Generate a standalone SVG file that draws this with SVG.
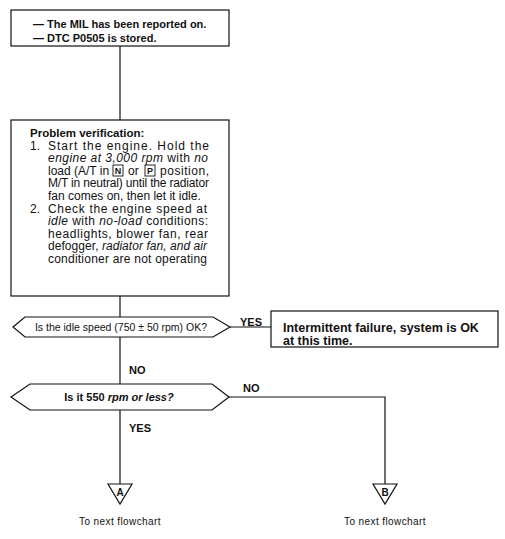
<svg xmlns="http://www.w3.org/2000/svg" width="505" height="539" viewBox="0 0 505 539">
<style>
.box{fill:#fff;stroke:#111;stroke-width:1.2}
.ln{fill:none;stroke:#111;stroke-width:1.2}
text{font-family:"Liberation Sans",Arial,sans-serif;fill:#111}
.b{font-weight:bold;font-size:11px}
.t{font-size:12px}
.i{font-style:italic}
.lbl{font-weight:bold;font-size:11px}
.nx{font-size:10px;letter-spacing:0.4px}
.key{font-weight:bold;font-size:9px}
.tri{font-weight:bold;font-size:10px}
</style>
<rect width="505" height="539" fill="#fff"/>
<g id="connectors">
<line class="ln" x1="120" y1="46" x2="120" y2="120"/>
<line class="ln" x1="120" y1="296" x2="120" y2="317"/>
<line class="ln" x1="120" y1="337" x2="120" y2="384"/>
<line class="ln" x1="230" y1="327" x2="271" y2="327"/>
<line class="ln" x1="120" y1="410" x2="120" y2="484"/>
<polyline class="ln" points="229,397 385,397 385,484"/>
<text class="lbl" x="240" y="326">YES</text>
<text class="lbl" x="129" y="374">NO</text>
<text class="lbl" x="243" y="392">NO</text>
<text class="lbl" x="129" y="432">YES</text>
</g>
<g id="start">
<rect class="box" x="11" y="10" width="218" height="36"/>
<text class="b" x="33" y="28">— The MIL has been reported on.</text>
<text class="b" x="33" y="42">— DTC P0505 is stored.</text>
</g>
<g id="verify">
<rect class="box" x="11" y="120" width="218" height="176"/>
<text class="b" x="30" y="137" style="font-size:11.5px">Problem verification:</text>
<text class="t" x="30" y="149.6">1.</text>
<text class="t" x="48" y="149.6" textLength="161" lengthAdjust="spacing">Start the engine. Hold the</text>
<text class="t" x="48" y="162.2" textLength="160" lengthAdjust="spacing"><tspan class="i">engine at 3,000 rpm</tspan> with <tspan class="i">no</tspan></text>
<text class="t" x="48" y="174.8">load (A/T in</text>
<rect x="113" y="165" width="10" height="11" fill="none" stroke="#111" stroke-width="0.9"/>
<text class="key" x="118" y="174" text-anchor="middle">N</text>
<text class="t" x="128" y="174.8">or</text>
<rect x="145" y="165" width="10" height="11" fill="none" stroke="#111" stroke-width="0.9"/>
<text class="key" x="150" y="174" text-anchor="middle">P</text>
<text class="t" x="160" y="174.8" textLength="49" lengthAdjust="spacing">position,</text>
<text class="t" x="48" y="187.4" textLength="161" lengthAdjust="spacing">M/T in neutral) until the radiator</text>
<text class="t" x="48" y="200">fan comes on, then let it idle.</text>
<text class="t" x="30" y="212.6">2.</text>
<text class="t" x="48" y="212.6" textLength="159" lengthAdjust="spacing">Check the engine speed at</text>
<text class="t" x="48" y="225.2" textLength="160" lengthAdjust="spacing"><tspan class="i">idle</tspan> with <tspan class="i">no-load</tspan> conditions:</text>
<text class="t" x="48" y="237.8" textLength="160" lengthAdjust="spacing">headlights, blower fan, rear</text>
<text class="t" x="48" y="250.4" textLength="159" lengthAdjust="spacing">defogger, <tspan class="i">radiator fan, and air</tspan></text>
<text class="t" x="48" y="263" textLength="159" lengthAdjust="spacing">conditioner are not operating</text>
</g>
<g id="q1">
<polygon class="box" points="13,327 25,317 213,317 230,327 213,337 25,337"/>
<text x="121" y="331" style="font-size:10.5px" text-anchor="middle">Is the idle speed (750 ± 50 rpm) OK?</text>
</g>
<g id="ok">
<rect class="box" x="271" y="311" width="227" height="36"/>
<text class="b" x="283" y="332" style="font-size:12.5px">Intermittent failure, system is OK</text>
<text class="b" x="283" y="345" style="font-size:12.5px">at this time.</text>
</g>
<g id="q2">
<polygon class="box" points="11,397 30,384 212,384 229,397 212,410 30,410"/>
<text class="b" x="119" y="401" text-anchor="middle">Is it 550 <tspan class="i">rpm or less?</tspan></text>
</g>
<g id="A">
<polygon class="box" points="108,484 132,484 120,504"/>
<text class="tri" x="120" y="496" text-anchor="middle">A</text>
<text class="nx" x="120" y="525" text-anchor="middle">To next flowchart</text>
</g>
<g id="B">
<polygon class="box" points="373,484 397,484 385,504"/>
<text class="tri" x="385" y="496" text-anchor="middle">B</text>
<text class="nx" x="385" y="525" text-anchor="middle">To next flowchart</text>
</g>
</svg>
